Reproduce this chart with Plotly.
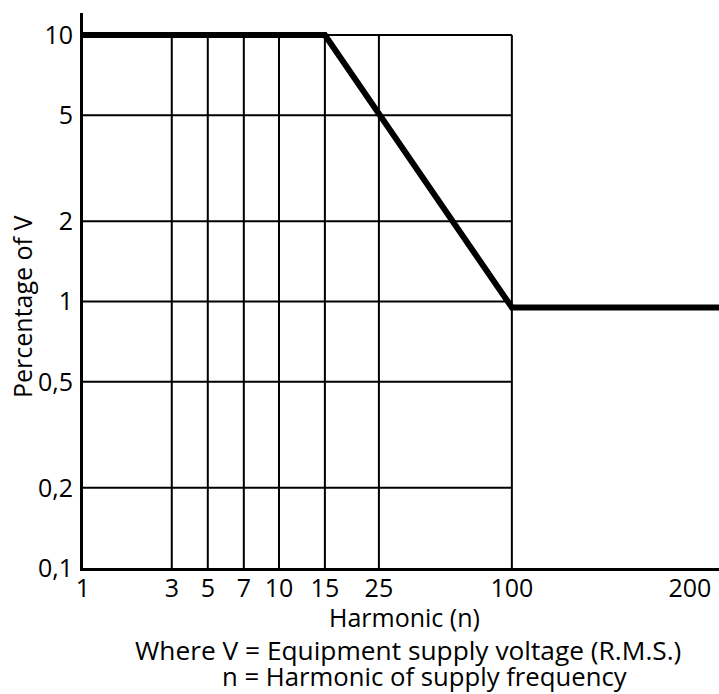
import numpy as np
import plotly.graph_objects as go

# ---- data ----
harmonic_ticks = [1, 3, 5, 7, 10, 15, 25, 100, 200]
harmonic_labels = ["1", "3", "5", "7", "10", "15", "25", "100", "200"]
harmonic_grid = [3, 5, 7, 10, 15, 25, 100]
pct_ticks = [0.1, 0.2, 0.5, 1, 2, 5, 10]
pct_labels = ["0,1", "0,2", "0,5", "1", "2", "5", "10"]

# limit curve (harmonic n, percentage of V)
limit_harmonic = [1, 15, 100]
limit_pct = [10, 10, 0.95]
limit_tail_pct = 0.95  # continues flat to the end of the axis

# ---- non-uniform harmonic scale of the original chart ----
scale_knots_h = [1, 3, 5, 7, 10, 15, 25, 100, 200]
scale_knots_u = [0.0, 0.207, 0.291, 0.375, 0.457, 0.564, 0.690, 1.0, 1.415]
x_end = 1.483


def hscale(h):
    return np.interp(h, scale_knots_h, scale_knots_u).tolist()


W, H = 719, 694
ML, MR, MT, MB = 83, 0, 13, 126
PW, PH = W - ML - MR, H - MT - MB
FONT = "Open Sans"
FS = 25


def px(xp):
    return (xp - ML) / PW


def py(yp):
    return (H - MB - yp) / PH


fig = go.Figure()

# limit line
fig.add_trace(go.Scatter(
    x=hscale(limit_harmonic) + [x_end],
    y=limit_pct + [limit_tail_pct],
    mode="lines",
    line=dict(color="black", width=6),
    hoverinfo="skip",
    showlegend=False,
))

shapes = []
x_lo, x_hi = hscale([1])[0], hscale([100])[0]
for v in pct_ticks[1:]:
    shapes.append(dict(type="line", xref="x", yref="y", x0=x_lo, x1=x_hi, y0=v, y1=v,
                       line=dict(color="black", width=2), layer="below"))
for h in harmonic_grid:
    xv = hscale([h])[0]
    shapes.append(dict(type="line", xref="x", yref="y", x0=xv, x1=xv,
                       y0=pct_ticks[0], y1=pct_ticks[-1],
                       line=dict(color="black", width=2), layer="below"))

annotations = [
    dict(text="Harmonic (n)", x=px(404), y=py(617), xref="paper", yref="paper",
         xanchor="center", yanchor="middle", showarrow=False,
         font=dict(family=FONT, size=FS, color="black")),
    dict(text="Where V = Equipment supply voltage (R.M.S.)", x=px(133), y=py(650),
         xref="paper", yref="paper", xanchor="left", yanchor="middle", showarrow=False,
         font=dict(family=FONT, size=26.3, color="black")),
    dict(text="n = Harmonic of supply frequency", x=px(220), y=py(676),
         xref="paper", yref="paper", xanchor="left", yanchor="middle", showarrow=False,
         font=dict(family=FONT, size=25.7, color="black")),
    dict(text="Percentage of V", x=px(22), y=py(307), xref="paper", yref="paper",
         xanchor="center", yanchor="middle", showarrow=False, textangle=-90,
         font=dict(family=FONT, size=FS, color="black")),
]

fig.update_layout(
    width=W, height=H,
    margin=dict(l=ML, r=MR, t=MT, b=MB, pad=0),
    paper_bgcolor="white", plot_bgcolor="white",
    font=dict(family=FONT, size=FS, color="black"),
    shapes=shapes,
    annotations=annotations,
    xaxis=dict(
        range=[0, x_end], showgrid=False, zeroline=False,
        tickmode="array", tickvals=hscale(harmonic_ticks), ticktext=harmonic_labels,
        showline=True, linecolor="black", linewidth=3, ticks="",
        ticklabelstandoff=-4,
        tickfont=dict(family=FONT, size=FS, color="black"),
    ),
    yaxis=dict(
        type="log", range=[-1, 1.083], showgrid=False, zeroline=False,
        tickmode="array", tickvals=pct_ticks, ticktext=pct_labels,
        showline=True, linecolor="black", linewidth=3, ticks="",
        ticklabelstandoff=2,
        tickfont=dict(family=FONT, size=FS, color="black"),
    ),
)

fig.write_html(
    "out.html",
    config={"displayModeBar": False},
    post_script="document.body.style.margin='0';document.body.style.overflow='hidden';",
)
